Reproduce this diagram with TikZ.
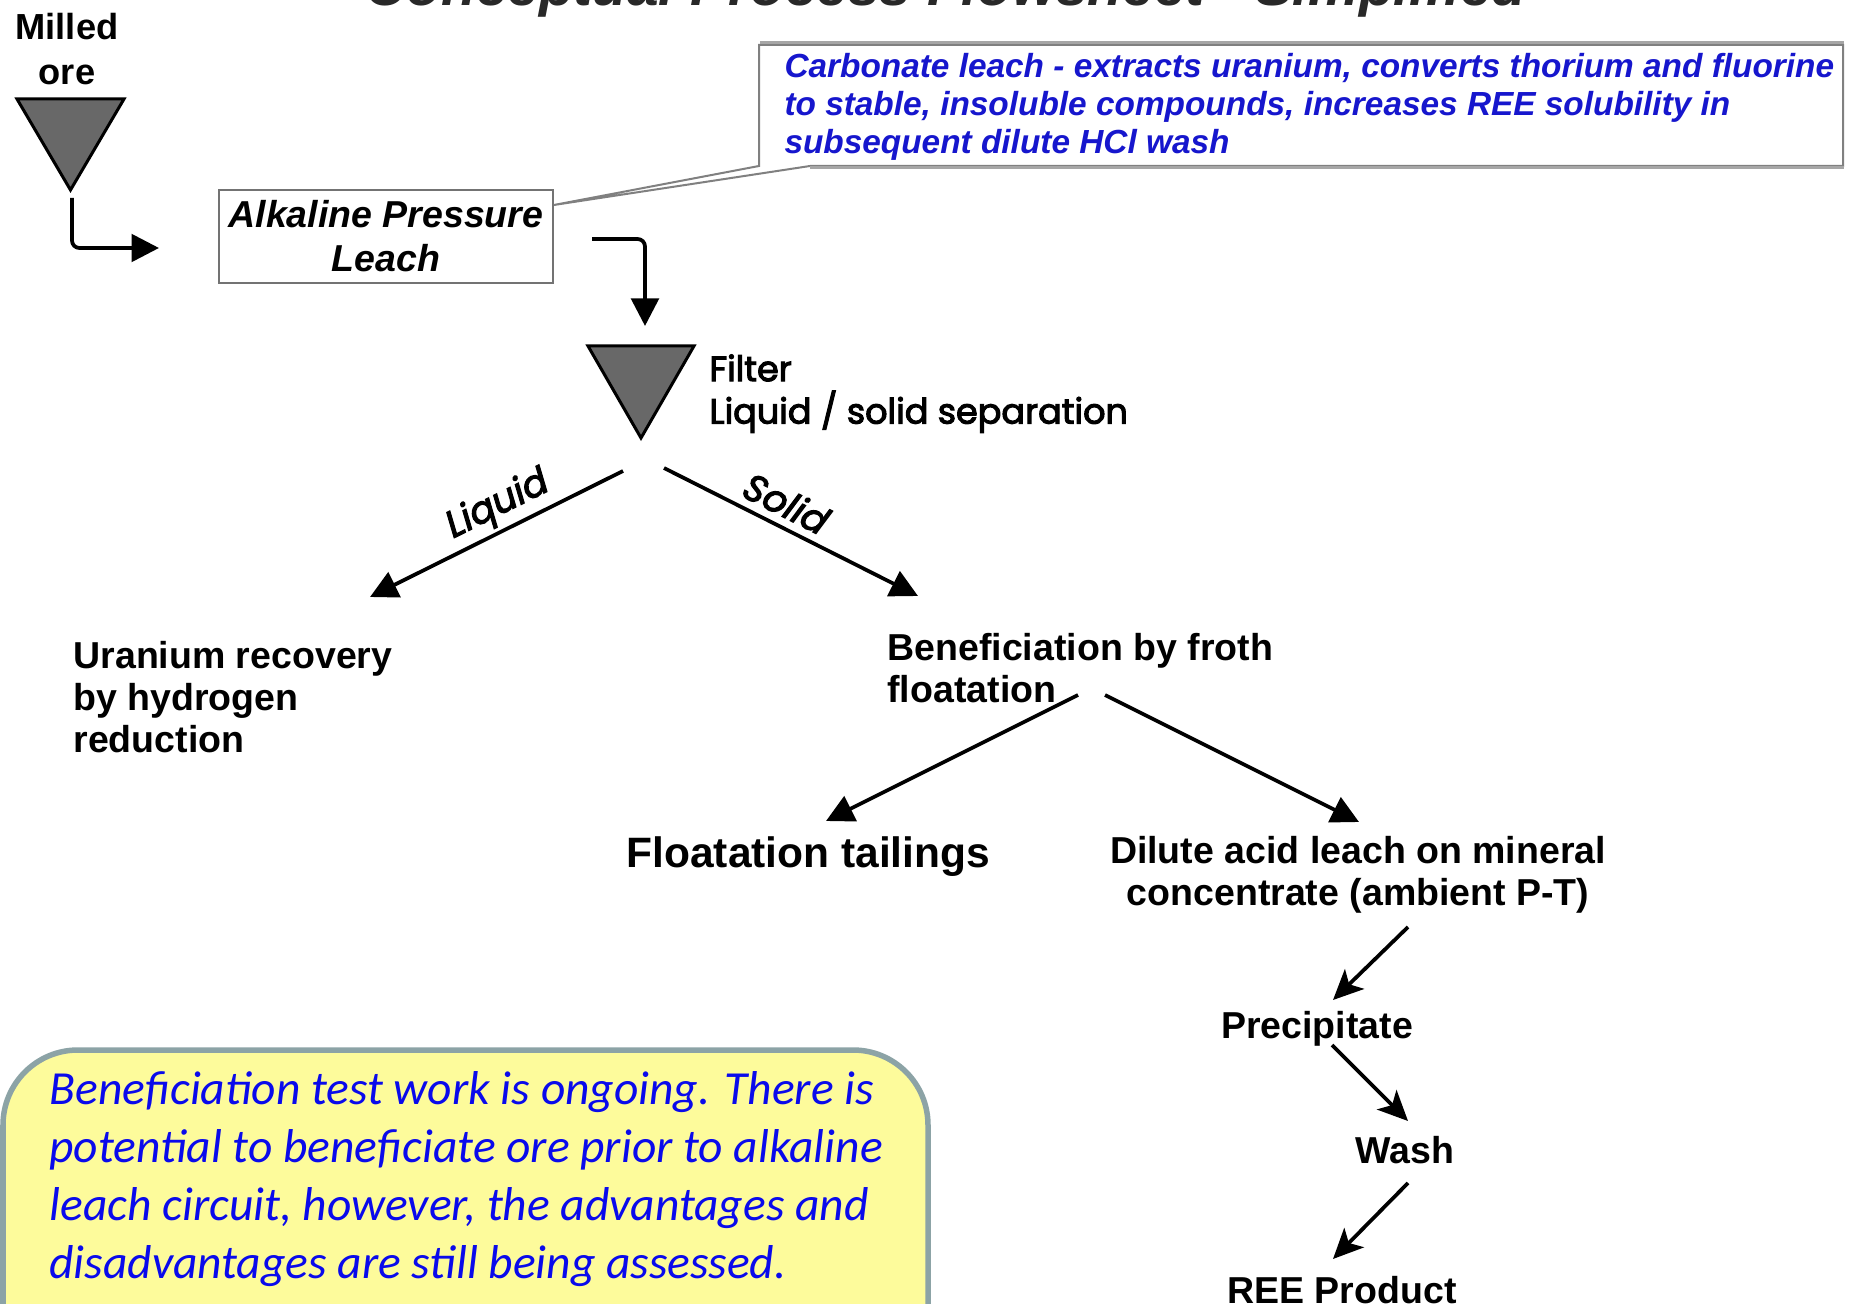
\documentclass[tikz,border=0pt]{standalone}
\usepackage{fontspec}
\setmainfont{Liberation Sans}
\newfontfamily\gothic{Poppins}[FakeBold=3]
\newfontfamily\calib{Carlito}
\usetikzlibrary{arrows.meta}
\newcommand{\fsz}[2]{\fontsize{#1}{#2}\selectfont}
\definecolor{trigray}{RGB}{104,104,104}
\definecolor{callblue}{RGB}{22,22,205}
\definecolor{notblue}{RGB}{10,10,235}
\definecolor{yfill}{RGB}{253,251,155}
\definecolor{yborder}{RGB}{140,163,166}
\definecolor{titlegray}{RGB}{40,40,40}
\begin{document}
\begin{tikzpicture}[x=0.4pt,y=-0.4pt,
  lbl/.style={inner sep=0pt, font=\bfseries\fsz{15}{16.8}},
  conn/.style={line width=1.5pt, -{Triangle[length=11pt,width=11pt]}},
  connb/.style={line width=1.5pt, -{Stealth[length=12pt,width=11pt,inset=3pt]}},
  tri/.style={draw=black, line width=1.2pt, fill=trigray, line join=miter},
  gtext/.style={inner sep=0pt, font=\gothic\fsz{14}{16}},
  glabel/.style={sloped, inner sep=0pt, font=\gothic\itshape\fsz{15}{17}},
]
\useasboundingbox (0,0) rectangle (1855,1304);
\clip (0,0) rectangle (1855,1304);
\fill[white] (0,0) rectangle (1855,1304);

% title (cut off at top)
\node[inner sep=0pt, anchor=base, font=\bfseries\itshape\fsz{22.7}{26}, text=titlegray] (title) at (946,6) {Conceptual Process Flowsheet - Simplified};

% milled ore
\node[lbl, anchor=north, align=center, font=\bfseries\fsz{14.5}{18}] (milled) at (67,13) {Milled\\ore};
\draw[tri] (17,99) -- (124,99) -- (70.5,190) -- cycle;
\coordinate (oreout) at (72,198);

% alkaline pressure leach
\node[draw=black!55, line width=0.7pt, minimum width=133.6pt, minimum height=37.2pt, align=center,
      font=\bfseries\itshape\fsz{15}{17.6}, inner sep=0pt] (leach) at (386,236.5) {Alkaline Pressure\\Leach};
\coordinate (leachin) at (159,248);
\draw[conn, rounded corners=3pt] (oreout) |- (leachin);

% callout
\coordinate (calltip) at (leach.east |- 0,205);
\draw[black!50, line width=0.8pt, fill=white, line join=miter]
  (759,45) -- (1843,45) -- (1843,166) -- (810,166) -- (calltip) -- (759,166) -- cycle;
\draw[black!35, line width=1.2pt] (760,43) -- (1844,43);
\draw[black!35, line width=1.2pt] (810,168) -- (1844,168);
\node[anchor=north west, align=left, inner sep=0pt, font=\bfseries\itshape\fsz{13.35}{15.2}, text=callblue] (callout) at (784,53)
  {Carbonate leach - extracts uranium, converts thorium and fluorine\\
   to stable, insoluble compounds, increases REE solubility in\\
   subsequent dilute HCl wash};

% filter
\coordinate (leachout) at (592,239);
\coordinate (filterin) at (645,326);
\draw[conn, rounded corners=3pt] (leachout) -| (filterin);
\draw[tri] (588,346) -- (694,346) -- (641,438) -- cycle;
\node[gtext, anchor=north west, align=left] (filter) at (709,354) {Filter\\[1pt]Liquid / solid separation};

% liquid / solid
\coordinate (liqout) at (623,471);
\coordinate (solout) at (664,468);
\node[lbl, anchor=north west, align=left] (uranium) at (73,641) {Uranium recovery\\by hydrogen\\reduction};
\node[lbl, anchor=north west, align=left] (benef) at (887,633) {Beneficiation by froth\\floatation};
\coordinate (uranin) at (370,597);
\coordinate (benin) at (918,596);
\draw[conn] (liqout) -- (uranin) node[glabel, above=1.5pt, pos=0.45] (liqlbl) {Liquid};
\draw[conn] (solout) -- (benin) node[glabel, above=3pt, pos=0.44] (sollbl) {Solid};

% beneficiation split
\node[lbl, anchor=base west, font=\bfseries\fsz{17}{20}] (tail) at (626,868) {Floatation tailings};
\node[lbl, anchor=north, align=center] (dilute) at (1358,836) {Dilute acid leach on mineral\\concentrate (ambient P-T)};
\coordinate (benout1) at (1078,695);
\coordinate (benout2) at (1105,695);
\coordinate (tailin) at (826,821);
\coordinate (dilin) at (1359,822);
\draw[conn] (benout1) -- (tailin);
\draw[conn] (benout2) -- (dilin);

% downstream
\node[lbl, anchor=base] (precip) at (1317,1038) {Precipitate};
\node[lbl, anchor=base] (wash) at (1405,1163) {Wash};
\node[lbl, anchor=base] (ree) at (1342,1303) {REE Product};
\draw[connb] (1408,927) coordinate (dilout) -- (1333,1000) coordinate (precin);
\draw[connb] (1332,1045) coordinate (precout) -- (1408,1121) coordinate (washin);
\draw[connb] (1408,1183) coordinate (washout) -- (1333,1259) coordinate (reein);

% note box
\draw[fill=yfill, draw=yborder, line width=2.2pt, rounded corners=30pt] (3,1050) rectangle (928,1420);
\node[anchor=north west, align=left, inner sep=0pt, font=\calib\itshape\fsz{19}{23.2}, text=notblue] (note) at (49,1071)
  {Beneficiation test work is ongoing. There is\\
   potential to beneficiate ore prior to alkaline\\
   leach circuit, however, the advantages and\\
   disadvantages are still being assessed.};
\end{tikzpicture}
\end{document}
